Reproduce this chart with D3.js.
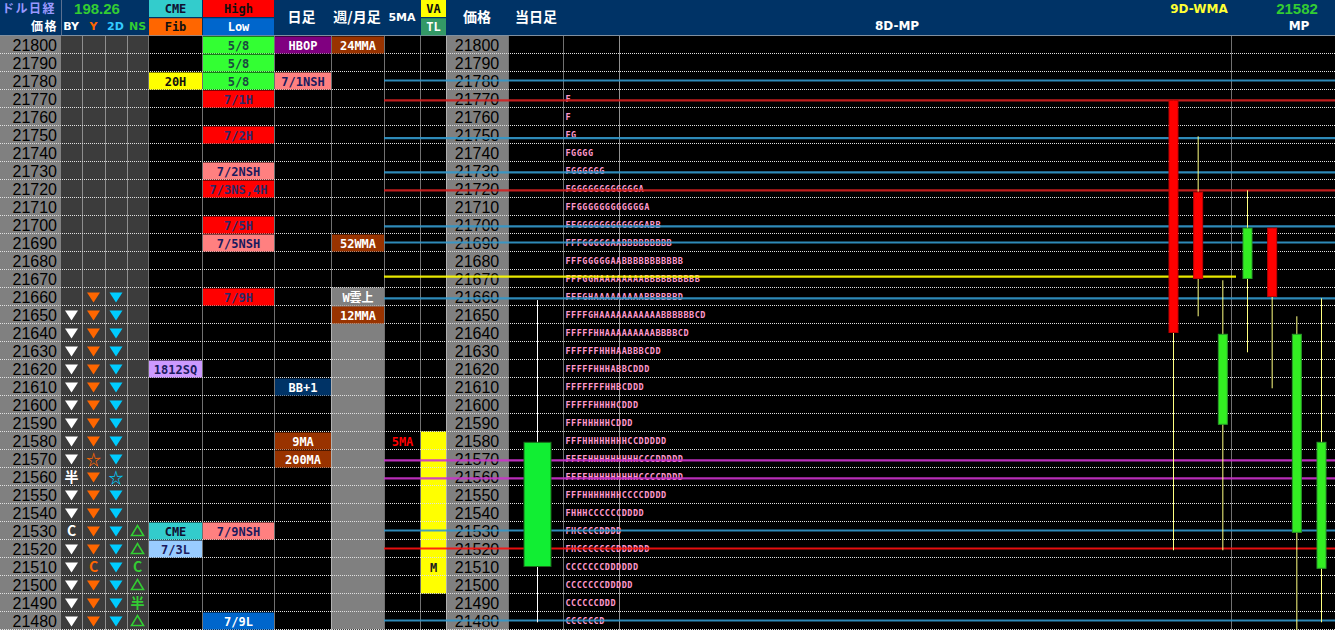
<!DOCTYPE html>
<html>
<head>
<meta charset="utf-8">
<script src="https://cdn.jsdelivr.net/npm/d3@7"></script>
<style>
    body { margin: 0; background: #000; overflow: hidden; }
    svg { display: block; }
</style>
</head>
<body>
<div id="chart"></div>
<script>

// ---- data read from the board ----

// price ladder (one row per 10 points)
const priceTicks = [21800, 21790, 21780, 21770, 21760, 21750, 21740, 21730, 21720, 21710, 21700,
    21690, 21680, 21670, 21660, 21650, 21640, 21630, 21620, 21610, 21600, 21590, 21580, 21570,
    21560, 21550, 21540, 21530, 21520, 21510, 21500, 21490, 21480];

// signal marks per column ("v" = down triangle, "^" = up triangle outline)
const byMarks = [[21650, "v"], [21640, "v"], [21630, "v"], [21620, "v"], [21610, "v"], [21600, "v"],
    [21590, "v"], [21580, "v"], [21570, "v"], [21560, "半"], [21550, "v"], [21540, "v"], [21530, "C"],
    [21520, "v"], [21510, "v"], [21500, "v"], [21490, "v"], [21480, "v"]];
const yMarks = [[21660, "v"], [21650, "v"], [21640, "v"], [21630, "v"], [21620, "v"], [21610, "v"],
    [21600, "v"], [21590, "v"], [21580, "v"], [21570, "☆"], [21560, "v"], [21550, "v"], [21540, "v"],
    [21530, "v"], [21520, "v"], [21510, "C"], [21500, "v"], [21490, "v"], [21480, "v"]];
const twoDayMarks = [[21660, "v"], [21650, "v"], [21640, "v"], [21630, "v"], [21620, "v"], [21610, "v"],
    [21600, "v"], [21590, "v"], [21580, "v"], [21570, "v"], [21560, "☆"], [21550, "v"], [21540, "v"],
    [21530, "v"], [21520, "v"], [21510, "v"], [21500, "v"], [21490, "v"], [21480, "v"]];
const nsMarks = [[21530, "^"], [21520, "^"], [21510, "C"], [21500, "^"], [21490, "半"], [21480, "^"]];

// labelled cells: [price, text, kind]
const cmeLabels = [[21780, "20H", "h20"], [21620, "1812SQ", "sq"], [21530, "CME", "cme"], [21520, "7/3L", "lowLight"]];
const highLowLabels = [[21800, "5/8", "fib"], [21790, "5/8", "fib"], [21780, "5/8", "fib"],
    [21770, "7/1H", "high"], [21750, "7/2H", "high"], [21730, "7/2NSH", "nsh"], [21720, "7/3NS,4H", "high"],
    [21700, "7/5H", "high"], [21690, "7/5NSH", "nsh"], [21660, "7/9H", "high"], [21530, "7/9NSH", "nsh"],
    [21480, "7/9L", "low"]];
const dailyLabels = [[21800, "HBOP", "pivot"], [21780, "7/1NSH", "nsh"], [21610, "BB+1", "bb"],
    [21580, "9MA", "ma"], [21570, "200MA", "ma"]];
const weeklyLabels = [[21800, "24MMA", "ma"], [21690, "52WMA", "ma"], [21660, "W雲上", "cloud"], [21650, "12MMA", "ma"]];
const ma5Labels = [[21580, "5MA", "ma5"]];
const vaLabels = [[21510, "M", "va"]];

// bands
const cloudRange = [21660, 21480];
const valueArea = [21580, 21500];

// horizontal level lines: [price, kind]
const levelLines = [[21780, "blue"], [21769, "red"], [21748, "blue"], [21729, "blue"], [21719, "red"],
    [21699, "blue"], [21690, "blue"], [21671, "tl"], [21659, "blue"], [21569, "magenta"],
    [21559, "magenta"], [21530, "blue"], [21520, "redBright"], [21480, "blue"]];

// 8 day market profile (TPO letters per price)
const profileRows = [[21770, "F"], [21760, "F"], [21750, "FG"], [21740, "FGGGG"], [21730, "FGGGGGG"],
    [21720, "FGGGGGGGGGGGGA"], [21710, "FFGGGGGGGGGGGGA"], [21700, "FFGGGGGGGGGGGGABB"],
    [21690, "FFFGGGGGAABBBBBBBBB"], [21680, "FFFGGGGGAABBBBBBBBBBB"], [21670, "FFFGGHAAAAAAAABBBBBBBBBB"],
    [21660, "FFFGHAAAAAAAAABBBBBBD"], [21650, "FFFFGHAAAAAAAAAAABBBBBBCD"], [21640, "FFFFFHHAAAAAAAAABBBBCD"],
    [21630, "FFFFFFHHHAABBBCDD"], [21620, "FFFFFHHHABBCDDD"], [21610, "FFFFFFFHHBCDDD"],
    [21600, "FFFFFHHHHCDDD"], [21590, "FFFHHHHHCDDD"], [21580, "FFFHHHHHHHHCCDDDDD"],
    [21570, "FFFFHHHHHHHHHCCCDDDDD"], [21560, "FFFFHHHHHHHHHCCCCDDDD"], [21550, "FFFHHHHHHHCCCCDDDD"],
    [21540, "FHHHCCCCCCDDDD"], [21530, "FHCCCCDDDD"], [21520, "FHCCCCCCCDDDDDD"], [21510, "CCCCCCCDDDDDD"],
    [21500, "CCCCCCCDDDDD"], [21490, "CCCCCCDDD"], [21480, "CCCCCCD"]];

// daily candles (last 7 sessions)
const days = ["7/1", "7/2", "7/3", "7/4", "7/5", "7/8", "7/9"];
const dayOpen = [21769, 21718, 21589, 21670, 21698, 21529, 21509];
const dayHigh = [21769, 21749, 21669, 21719, 21698, 21649, 21659];
const dayLow = [21519, 21649, 21519, 21629, 21609, 21470, 21479];
const dayClose = [21640, 21670, 21639, 21698, 21660, 21639, 21579];

// today's candle: open, high, low, close
const todayCandle = [21510, 21658, 21479, 21579];

// header values
const usdNikkei = "198.26";
const wmaValue = "21582";


// ---- layout / styles ----

const W = 1335, H = 630, headH = 35.5, rowH = 18;

const cols = {
    price: [0, 61], by: [61, 82], y: [82, 105], d2: [105, 127], ns: [127, 148],
    cme: [148, 202], hl: [202, 274], day: [274, 331], week: [331, 384],
    ma5: [384, 420], va: [420, 446], price2: [446, 508], today: [508, 563], profile: [563, 1335]
};

const cellStyle = {
    h20: {bg: "#ffff00", fg: "#101010"},
    sq: {bg: "#cc99ff", fg: "#1a1a5e"},
    cme: {bg: "#33cccc", fg: "#101030"},
    lowLight: {bg: "#99ccff", fg: "#1a1a5e"},
    fib: {bg: "#33ff33", fg: "#1a4a40"},
    high: {bg: "#ff0000", fg: "#2a2a6a"},
    nsh: {bg: "#ff8080", fg: "#1a1a5e"},
    low: {bg: "#0066cc", fg: "#ffffff"},
    pivot: {bg: "#800080", fg: "#ffffff"},
    bb: {bg: "#003366", fg: "#ffffff"},
    ma: {bg: "#993300", fg: "#ffffff"},
    cloud: {bg: "#808080", fg: "#ffffff"},
    ma5: {bg: "none", fg: "#ff0000"},
    va: {bg: "none", fg: "#202020"}
};

const lineStyle = {
    blue: {color: "#3399cc", x2: W},
    red: {color: "#d42020", x2: W},
    redBright: {color: "#ff1010", x2: W},
    magenta: {color: "#cc33cc", x2: W},
    tl: {color: "#ffff00", x2: 1236}
};

const markColor = {by: "#ffffff", y: "#ff6600", d2: "#00ccff", ns: "#33cc33"};


// ---- scales ----

let y = d3.scaleLinear()
    .domain([21800, 21480])
    .range([headH + rowH / 2, headH + rowH / 2 + 32 * rowH]);

let xDay = d3.scalePoint()
    .domain(days)
    .range([1173.5, 1321.5]);

let svg = d3.select("#chart").append("svg")
    .attr("width", W)
    .attr("height", H)
    .style("font-family", "'DejaVu Sans Mono', 'Noto Sans CJK JP', monospace");

svg.append("rect").attr("width", W).attr("height", H).attr("fill", "#000");

// column backgrounds
function colRect(col, fill, y0 = headH, y1 = H) {
    svg.append("rect")
        .attr("x", cols[col][0]).attr("y", y0)
        .attr("width", cols[col][1] - cols[col][0]).attr("height", y1 - y0)
        .attr("fill", fill);
}
colRect("price", "#808080");
colRect("price2", "#808080");
["by", "y", "d2", "ns"].forEach(c => colRect(c, "#3c3c3c"));
colRect("week", "#808080", y(cloudRange[0]) - rowH / 2, y(cloudRange[1]) + rowH / 2);
svg.append("rect")
    .attr("x", cols.va[0] + 1).attr("y", y(valueArea[0]) - rowH / 2)
    .attr("width", cols.va[1] - cols.va[0] - 1)
    .attr("height", y(valueArea[1]) - y(valueArea[0]) + rowH)
    .attr("fill", "#ffff00");

// dotted grid
svg.selectAll(".hgrid")
    .data(priceTicks)
    .enter().append("line")
    .attr("class", "hgrid")
    .attr("x1", 0).attr("x2", W)
    .attr("y1", d => y(d) + rowH / 2).attr("y2", d => y(d) + rowH / 2)
    .attr("stroke", "#e0e0e0").attr("stroke-width", 1)
    .attr("stroke-dasharray", "1,1");

const vEdges = [82, 105, 127, 148, 202, 274, 331, 384, 420, 446, 508, 563, 1231];
svg.selectAll(".vgrid")
    .data(vEdges)
    .enter().append("line")
    .attr("class", "vgrid")
    .attr("x1", d => d + 0.5).attr("x2", d => d + 0.5)
    .attr("y1", headH).attr("y2", H)
    .attr("stroke", "#e0e0e0").attr("stroke-width", 1)
    .attr("stroke-dasharray", "1,1");

svg.append("line")
    .attr("x1", 619.5).attr("x2", 619.5).attr("y1", headH).attr("y2", H)
    .attr("stroke", "#909090").attr("stroke-width", 1);

// labelled cells
function drawCells(col, data) {
    let g = svg.append("g");
    let x0 = cols[col][0], w = cols[col][1] - cols[col][0];
    g.selectAll("rect")
        .data(data.filter(d => cellStyle[d[2]].bg !== "none"))
        .enter().append("rect")
        .attr("x", x0 + 1).attr("y", d => y(d[0]) - rowH / 2 + 1)
        .attr("width", w - 1).attr("height", rowH - 1)
        .attr("fill", d => cellStyle[d[2]].bg);
    g.selectAll("text")
        .data(data)
        .enter().append("text")
        .attr("x", x0 + w / 2 + 0.5).attr("y", d => y(d[0]) + 1)
        .attr("dy", "0.35em")
        .attr("text-anchor", "middle")
        .attr("font-size", 12).attr("font-weight", "bold")
        .attr("fill", d => cellStyle[d[2]].fg)
        .text(d => d[1]);
}
drawCells("cme", cmeLabels);
drawCells("hl", highLowLabels);
drawCells("day", dailyLabels);
drawCells("week", weeklyLabels);
drawCells("ma5", ma5Labels);
drawCells("va", vaLabels);

// signal marks
function drawMarks(col, data) {
    let g = svg.append("g");
    let cx = (cols[col][0] + cols[col][1]) / 2;
    let color = markColor[col];
    data.forEach(d => {
        let cy = y(d[0]);
        if (d[1] === "v") {
            g.append("path")
                .attr("d", `M${cx - 6.5},${cy - 4} L${cx + 6.5},${cy - 4} L${cx},${cy + 6} Z`)
                .attr("fill", color);
        } else if (d[1] === "^") {
            g.append("path")
                .attr("d", `M${cx - 6},${cy + 5} L${cx + 6},${cy + 5} L${cx},${cy - 5} Z`)
                .attr("fill", "none").attr("stroke", color).attr("stroke-width", 1.6);
        } else {
            g.append("text")
                .attr("x", cx).attr("y", cy + 1).attr("dy", "0.35em")
                .attr("text-anchor", "middle")
                .attr("font-family", "'Noto Sans CJK JP', 'DejaVu Sans', sans-serif")
                .attr("font-size", d[1] === "☆" ? 15 : 14)
                .attr("font-weight", "bold")
                .attr("fill", color)
                .text(d[1]);
        }
    });
}
drawMarks("by", byMarks);
drawMarks("y", yMarks);
drawMarks("d2", twoDayMarks);
drawMarks("ns", nsMarks);

// price labels (left and middle ladders)
[["price", 57, "end"], ["price2", 477, "middle"]].forEach(p => {
    svg.append("g").selectAll("text")
        .data(priceTicks)
        .enter().append("text")
        .attr("x", p[1]).attr("y", d => y(d) + 1)
        .attr("dy", "0.35em")
        .attr("text-anchor", p[2])
        .attr("font-family", "'Liberation Sans', Arial, sans-serif")
        .attr("font-size", 16)
        .attr("fill", "#000")
        .text(d => d);
});

// market profile letters
svg.append("g").selectAll("text")
    .data(profileRows)
    .enter().append("text")
    .attr("x", 565.5).attr("y", d => y(d[0]) + 0.5)
    .attr("dy", "0.35em")
    .attr("font-size", 8.5).attr("font-weight", "bold")
    .attr("letter-spacing", 0.5)
    .attr("fill", "#ff99cc")
    .text(d => d[1]);

// level lines
svg.append("g").selectAll("line")
    .data(levelLines)
    .enter().append("line")
    .attr("x1", 384).attr("x2", d => lineStyle[d[1]].x2)
    .attr("y1", d => y(d[0])).attr("y2", d => y(d[0]))
    .attr("stroke", d => lineStyle[d[1]].color)
    .attr("stroke-width", 2.2)
    .attr("opacity", 0.9);

// daily candles
let candles = svg.append("g").selectAll("g")
    .data(days.map((d, i) => ({day: d, o: dayOpen[i], h: dayHigh[i], l: dayLow[i], c: dayClose[i]})))
    .enter().append("g");
candles.append("line")
    .attr("x1", d => xDay(d.day)).attr("x2", d => xDay(d.day))
    .attr("y1", d => y(d.h)).attr("y2", d => Math.min(H, y(d.l)))
    .attr("stroke", "#ffff80").attr("stroke-width", 1);
candles.append("rect")
    .attr("x", d => xDay(d.day) - 4.5)
    .attr("y", d => y(Math.max(d.o, d.c)))
    .attr("width", 9)
    .attr("height", d => Math.abs(y(d.o) - y(d.c)))
    .attr("fill", d => d.c >= d.o ? "#33ee22" : "#ff0000")
    .attr("stroke", d => d.c >= d.o ? "#2a9a2a" : "#c00000")
    .attr("stroke-width", 1);

// today's candle
let tx = (cols.today[0] + cols.today[1]) / 2 + 2;
svg.append("line")
    .attr("x1", tx).attr("x2", tx)
    .attr("y1", y(todayCandle[1])).attr("y2", y(todayCandle[2]))
    .attr("stroke", "#ffffff").attr("stroke-width", 1);
svg.append("rect")
    .attr("x", tx - 13.5).attr("y", y(todayCandle[3]))
    .attr("width", 27).attr("height", y(todayCandle[0]) - y(todayCandle[3]))
    .attr("fill", "#11ee33").attr("stroke", "#1a6a1a").attr("stroke-width", 1);


// ---- header ----

let head = svg.append("g");
head.append("rect").attr("width", W).attr("height", headH).attr("fill", "#003366");
head.append("line").attr("x1", 0).attr("x2", W).attr("y1", headH).attr("y2", headH)
    .attr("stroke", "#8090a0").attr("stroke-width", 1.2);
head.append("line").attr("x1", 61.5).attr("x2", 61.5).attr("y1", 0).attr("y2", headH)
    .attr("stroke", "#5a7090").attr("stroke-width", 1);

const headCells = [
    [148, 202, 0, "CME", "#33cccc", "#101030"], [148, 202, 1, "Fib", "#ff6600", "#101010"],
    [202, 274, 0, "High", "#ff0000", "#101010"], [202, 274, 1, "Low", "#0066cc", "#ffffff"],
    [420, 446, 0, "VA", "#ffff00", "#101010"], [420, 446, 1, "TL", "#339966", "#ffffff"]
];
headCells.forEach(c => {
    head.append("rect")
        .attr("x", c[0] + 1).attr("y", c[2] * 17.75 + (c[2] ? 0.5 : 0))
        .attr("width", c[1] - c[0] - 1).attr("height", 17)
        .attr("fill", c[4]);
    head.append("text")
        .attr("x", (c[0] + c[1]) / 2 + 0.5).attr("y", c[2] * 17.75 + 9)
        .attr("dy", "0.35em").attr("text-anchor", "middle")
        .attr("font-size", 12).attr("font-weight", "bold")
        .attr("fill", c[5]).text(c[3]);
});

function headText(x, yy, txt, color, size, anchor = "middle", family = "'Noto Sans CJK JP', sans-serif") {
    return head.append("text")
        .attr("x", x).attr("y", yy).attr("dy", "0.35em")
        .attr("text-anchor", anchor)
        .attr("font-family", family)
        .attr("font-size", size).attr("font-weight", "bold")
        .attr("fill", color).text(txt);
}
headText(2, 9, "ドル日経", "#9999ff", 12, "start").attr("letter-spacing", 1.5);
headText(58, 26.5, "価格", "#ffffff", 12, "end").attr("letter-spacing", 1.5);
headText(97, 8.5, usdNikkei, "#33cc33", 15, "middle", "'Liberation Sans', sans-serif");
headText(71, 26, "BY", "#ffffff", 11, "middle", "'DejaVu Sans', sans-serif");
headText(93.5, 26, "Y", "#ff6600", 11, "middle", "'DejaVu Sans', sans-serif");
headText(115.5, 26, "2D", "#33ccff", 11, "middle", "'DejaVu Sans', sans-serif");
headText(137.5, 26, "NS", "#33cc33", 11, "middle", "'DejaVu Sans', sans-serif");
headText(301.5, 17, "日足", "#ffffff", 14);
headText(357, 17, "週/月足", "#ffffff", 14);
headText(402, 17, "5MA", "#ffffff", 11, "middle", "'DejaVu Sans', sans-serif");
headText(477, 17, "価格", "#ffffff", 14);
headText(536, 17, "当日足", "#ffffff", 14);
headText(897, 26, "8D-MP", "#ffffff", 12, "middle", "'DejaVu Sans', sans-serif");
headText(1199, 8.5, "9D-WMA", "#ffff33", 12, "middle", "'DejaVu Sans', sans-serif");
headText(1297, 8.5, wmaValue, "#33cc33", 15, "middle", "'Liberation Sans', sans-serif");
headText(1299, 26, "MP", "#ffffff", 12, "middle", "'DejaVu Sans', sans-serif");

</script>
</body>
</html>
